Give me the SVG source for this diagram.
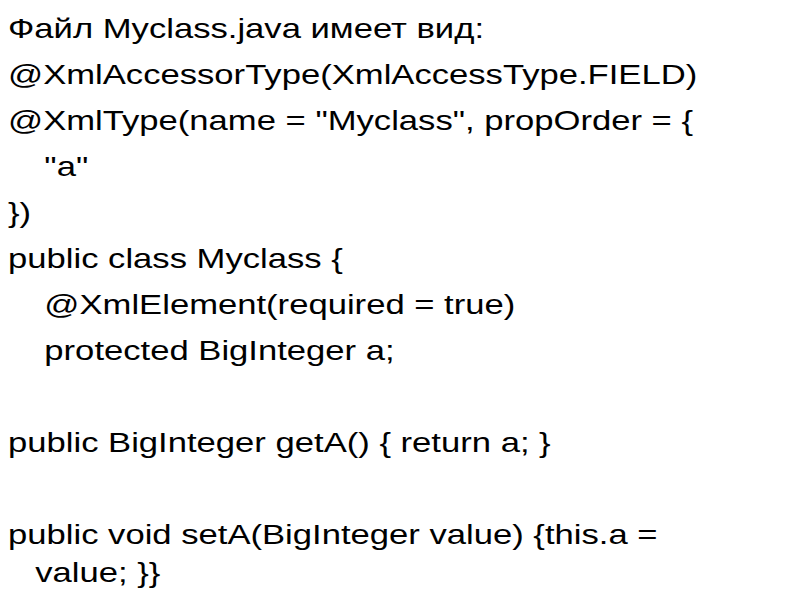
<svg xmlns="http://www.w3.org/2000/svg" width="800" height="600" viewBox="0 0 800 600">
<style>text{font-family:"Liberation Sans",Arial,sans-serif;font-size:28.5px;fill:#000}</style>
<rect width="800" height="600" fill="#fff"/>
<g transform="scale(1.215,1)">
<text x="6.6" y="38">Файл Myclass.java имеет вид:</text>
<text x="6.6" y="84">@XmlAccessorType(XmlAccessType.FIELD)</text>
<text x="6.6" y="130">@XmlType(name = "Myclass", propOrder = {</text>
<text x="36.5" y="176">"a"</text>
<text x="6.6" y="222">})</text>
<text x="6.6" y="268">public class Myclass {</text>
<text x="36.5" y="314">@XmlElement(required = true)</text>
<text x="36.5" y="360">protected BigInteger a;</text>
<text x="6.6" y="452">public BigInteger getA() { return a; }</text>
<text x="6.6" y="544">public void setA(BigInteger value) {this.a =</text>
<text x="29" y="582">value; }}</text>
</g>
</svg>
